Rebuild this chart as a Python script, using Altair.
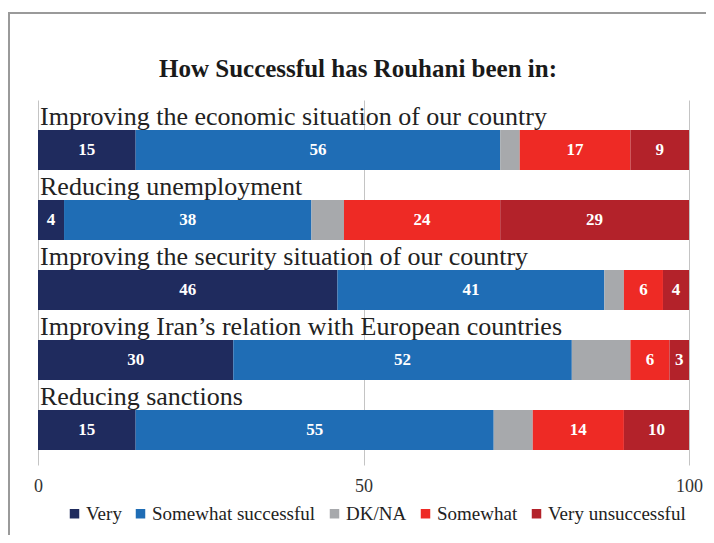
import altair as alt
import pandas as pd

categories = [
    "Improving the economic situation of our country",
    "Reducing unemployment",
    "Improving the security situation of our country",
    "Improving Iran’s relation with European countries",
    "Reducing sanctions",
]
responses = ["Very", "Somewhat successful", "DK/NA", "Somewhat", "Very unsuccessful"]
very = [15, 4, 46, 30, 15]
somewhat_successful = [56, 38, 41, 52, 55]
dk_na = [3, 5, 3, 9, 6]
somewhat_unsuccessful = [17, 24, 6, 6, 14]
very_unsuccessful = [9, 29, 4, 3, 10]
colors = ["#1f2b5e", "#1f6db5", "#a7a9ac", "#ee2a25", "#b3222a"]
title_text = "How Successful has Rouhani been in:"
tick_values = [0, 50, 100]

SERIF = "Liberation Serif"

series = [very, somewhat_successful, dk_na, somewhat_unsuccessful, very_unsuccessful]
rows = []
for ci, cat in enumerate(categories):
    for ri, resp in enumerate(responses):
        rows.append({"category": cat, "response": resp, "order": ri, "value": series[ri][ci]})
df = pd.DataFrame(rows)

y_enc = alt.Y(
    "category:N",
    sort=categories,
    scale=alt.Scale(domain=categories, paddingInner=0, paddingOuter=0.107, align=0),
    axis=None,
)

base = alt.Chart(df).transform_stack(
    stack="value",
    groupby=["category"],
    as_=["v0", "v1"],
    sort=[alt.SortField("order", order="ascending")],
)

bars = base.mark_bar(height=40, yOffset=15).encode(
    x=alt.X(
        "v0:Q",
        scale=alt.Scale(domain=[0, 100], nice=False),
        axis=alt.Axis(
            values=tick_values,
            title=None,
            grid=True,
            gridColor="#c4c4c4",
            gridWidth=1,
            domain=False,
            ticks=False,
            tickSize=0,
            labelFlush=False,
            labelFont=SERIF,
            labelFontSize=18,
            labelColor="#333333",
            labelBaseline="alphabetic",
            labelPadding=26,
        ),
    ),
    x2="v1:Q",
    y=y_enc,
    color=alt.Color(
        "response:N",
        scale=alt.Scale(domain=responses, range=colors),
        legend=alt.Legend(
            title=None,
            orient="none",
            legendX=27,
            legendY=404,
            direction="horizontal",
            columns=5,
            symbolType="square",
            symbolSize=90,
            symbolStrokeWidth=0,
            labelFont=SERIF,
            labelFontSize=19,
            labelColor="#222222",
            labelLimit=400,
            labelOffset=2,
            columnPadding=9,
            padding=0,
        ),
    ),
    order=alt.Order("order:Q"),
)

values = base.transform_filter(
    "datum.response != 'DK/NA'"
).transform_calculate(mid="(datum.v0 + datum.v1) / 2").mark_text(
    color="white", font=SERIF, fontWeight="bold", fontSize=17, baseline="middle", dy=15
).encode(
    x="mid:Q",
    y=y_enc,
    text="value:Q",
)

cat_df = pd.DataFrame({"category": categories})
labels = alt.Chart(cat_df).mark_text(
    align="left", baseline="alphabetic", font=SERIF, fontSize=26, color="#222222", dy=-10
).encode(
    x=alt.value(2),
    y=y_enc,
    text="category:N",
)

one = pd.DataFrame({"t": [title_text]})
title_mark = alt.Chart(one).mark_text(
    align="center", baseline="alphabetic", font=SERIF, fontSize=25, fontWeight="bold", color="#1a1a1a"
).encode(
    x=alt.value(320),
    y=alt.value(-23),
    text="t:N",
)

frame = alt.Chart(one).mark_rect(fill=None, stroke="#9a9a9a", strokeWidth=2).encode(
    x=alt.value(-29),
    x2=alt.value(720),
    y=alt.value(-87),
    y2=alt.value(600),
)

chart = alt.layer(frame, bars, values, labels, title_mark).properties(
    width=651,
    height=365,
    autosize=alt.AutoSizeParams(type="none"),
    padding={"left": 30, "top": 92, "right": 17, "bottom": 70},
).configure_view(stroke=None)

chart.save("out.html", embed_options={"renderer": "svg", "actions": False})
